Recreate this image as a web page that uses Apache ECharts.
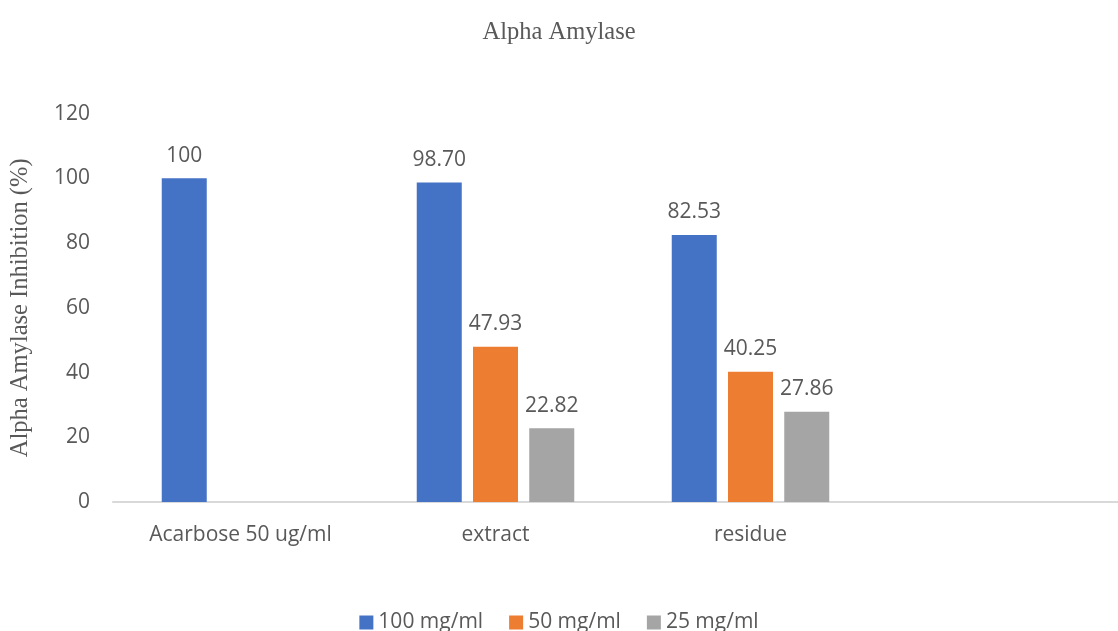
<!DOCTYPE html>
<html>
<head>
<meta charset="utf-8">
<script src="https://cdn.jsdelivr.net/npm/echarts@6/dist/echarts.min.js"></script>
<style>
  html, body { margin: 0; padding: 0; background: #fff; }
  #chart { width: 1118px; height: 631px; }
</style>
</head>
<body>
<div id="chart"></div>
<script>
// Inhibition of alpha amylase (%) per sample and concentration
const categories = ['Acarbose 50 ug/ml', 'extract', 'residue', ''];
const seriesNames = ['100 mg/ml', '50 mg/ml', '25 mg/ml'];
const conc100 = [100, 98.70, 82.53, null];
const conc50 = [null, 47.93, 40.25, null];
const conc25 = [null, 22.82, 27.86, null];
const labelText = [
  ['100', '98.70', '82.53', ''],
  ['', '47.93', '40.25', ''],
  ['', '22.82', '27.86', '']
];
const yTicks = [0, 20, 40, 60, 80, 100, 120];
const colors = ['#4472c4', '#ed7d31', '#a5a5a5'];

const textColor = '#595959';
const sansFont = '"Open Sans", "Noto Sans", sans-serif';
const serifFont = '"Liberation Serif", "DejaVu Serif", serif';

function makeSeries(name, data, idx) {
  return {
    name: name,
    type: 'bar',
    data: data,
    barWidth: 45,
    barGap: '25%',
    itemStyle: { color: colors[idx] },
    label: {
      show: true,
      position: 'top',
      distance: 12,
      color: textColor,
      fontFamily: sansFont,
      fontSize: 21,
      formatter: p => labelText[idx][p.dataIndex]
    }
  };
}

const chart = echarts.init(document.getElementById('chart'), null, { renderer: 'canvas' });
chart.setOption({
  animation: false,
  backgroundColor: '#ffffff',
  title: {
    text: 'Alpha Amylase',
    left: 'center',
    top: 15,
    textStyle: { fontFamily: serifFont, fontSize: 24.5, fontWeight: 'normal', color: textColor }
  },
  legend: {
    bottom: -7,
    left: 'center',
    itemWidth: 14,
    itemHeight: 14,
    itemGap: 26,
    icon: 'rect',
    textStyle: { fontFamily: sansFont, fontSize: 21, color: textColor },
    data: seriesNames
  },
  // the plot area runs past the right edge, leaving room for an empty fourth slot
  grid: {
    left: 113, top: 113.6, width: 1020, height: 388.4,
    containLabel: false, outerBoundsMode: 'none'
  },
  xAxis: {
    type: 'category',
    data: categories,
    axisLine: { lineStyle: { color: '#d9d9d9', width: 2 } },
    axisTick: { show: false },
    axisLabel: { color: textColor, fontFamily: sansFont, fontSize: 21, margin: 23 }
  },
  yAxis: {
    type: 'value',
    min: yTicks[0],
    max: yTicks[yTicks.length - 1],
    interval: 20,
    name: 'Alpha Amylase Inhibition (%)',
    nameLocation: 'middle',
    nameGap: 80,
    nameTextStyle: { fontFamily: serifFont, fontSize: 24.5, color: textColor },
    axisLine: { show: false },
    axisTick: { show: false },
    splitLine: { show: false },
    axisLabel: { color: textColor, fontFamily: sansFont, fontSize: 21, margin: 23 }
  },
  series: [
    makeSeries(seriesNames[0], conc100, 0),
    makeSeries(seriesNames[1], conc50, 1),
    makeSeries(seriesNames[2], conc25, 2)
  ]
});
</script>
</body>
</html>
